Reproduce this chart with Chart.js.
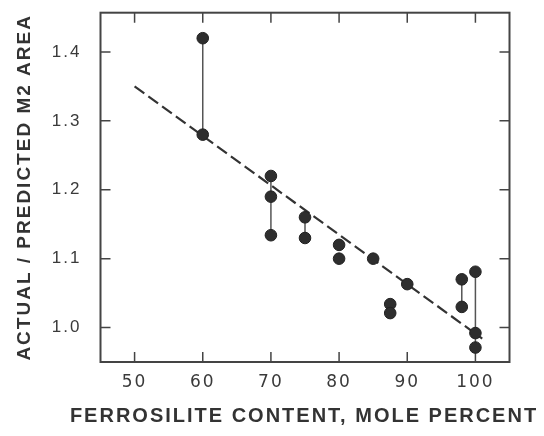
<!DOCTYPE html>
<html>
<head>
<meta charset="utf-8">
<script src="https://cdn.jsdelivr.net/npm/chart.js@4.4.1/dist/chart.umd.min.js"></script>
<style>
  html, body { margin: 0; padding: 0; background: #fff; }
  #wrap { width: 544px; height: 436px; }
</style>
</head>
<body>
<div id="wrap"><canvas id="chart" width="544" height="436"></canvas></div>
<script>
// ferrosilite content (mole %) and actual/predicted M2 area ratio
const fsContent = [60, 60, 70, 70, 70, 75, 75, 80, 80, 85, 87.5, 87.5, 90, 98, 98, 100, 100, 100];
const areaRatio = [1.42, 1.28, 1.22, 1.19, 1.134, 1.16, 1.13, 1.12, 1.10, 1.10, 1.034, 1.021, 1.063, 1.07, 1.03, 1.081, 0.992, 0.971];
// compositions where the points are joined by a vertical bar
const linkedContent = [60, 70, 75, 98, 100];
// dashed trend line
const fitX = [50, 101];
const fitY = [1.35, 0.984];
const xTicks = [50, 60, 70, 80, 90, 100];
const yTicks = [1.0, 1.1, 1.2, 1.3, 1.4];
const xTitle = "FERROSILITE CONTENT, MOLE PERCENT";

const ink = "#2e2e2e";

const links = linkedContent.map(x => {
  const ys = areaRatio.filter((_, i) => fsContent[i] === x);
  return {
    type: "line",
    data: [{ x, y: Math.min(...ys) }, { x, y: Math.max(...ys) }],
    borderColor: "#555",
    borderWidth: 1.5,
    pointRadius: 0,
    order: 3,
  };
});

// box and inward ticks on all four sides, plus the wide x title
const frame = {
  id: "frame",
  beforeDraw(chart) {
    chart.ctx.letterSpacing = "2px";
  },
  beforeDatasetsDraw(chart) {
    const { ctx, chartArea: a, scales } = chart;
    const len = 10;
    ctx.save();
    ctx.strokeStyle = "#444";
    ctx.lineWidth = 2;
    ctx.strokeRect(a.left, a.top, a.right - a.left, a.bottom - a.top);
    ctx.lineWidth = 1.5;
    ctx.beginPath();
    for (const v of xTicks) {
      const px = scales.x.getPixelForValue(v);
      ctx.moveTo(px, a.bottom); ctx.lineTo(px, a.bottom - len);
      ctx.moveTo(px, a.top); ctx.lineTo(px, a.top + len);
    }
    for (const v of yTicks) {
      const py = scales.y.getPixelForValue(v);
      ctx.moveTo(a.left, py); ctx.lineTo(a.left + len, py);
      ctx.moveTo(a.right, py); ctx.lineTo(a.right - len, py);
    }
    ctx.stroke();
    ctx.restore();
  },
  afterDraw(chart) {
    const { ctx, chartArea: a, scales } = chart;
    ctx.save();
    ctx.letterSpacing = "2px";
    ctx.font = "bold 20px 'Liberation Sans'";
    ctx.fillStyle = "#333";
    ctx.textAlign = "center";
    ctx.textBaseline = "middle";
    ctx.fillText(xTitle, (a.left + a.right) / 2 - 1, scales.x.bottom - 20);
    ctx.restore();
  },
};

new Chart(document.getElementById("chart"), {
  type: "scatter",
  data: {
    datasets: [
      {
        type: "line",
        data: fitX.map((x, i) => ({ x, y: fitY[i] })),
        borderColor: "#333",
        borderWidth: 2.2,
        borderDash: [12, 5],
        pointRadius: 0,
        order: 2,
      },
      ...links,
      {
        data: fsContent.map((x, i) => ({ x, y: areaRatio[i] })),
        backgroundColor: ink,
        borderColor: "#222",
        borderWidth: 1,
        pointRadius: 5.8,
        order: 1,
      },
    ],
  },
  options: {
    responsive: false,
    animation: false,
    events: [],
    layout: { padding: { top: 12.7, right: 34.5, left: 0, bottom: 0 } },
    plugins: { legend: { display: false }, tooltip: { enabled: false } },
    scales: {
      x: {
        type: "linear",
        min: 45,
        max: 105,
        afterBuildTicks: s => { s.ticks = xTicks.map(value => ({ value })); },
        afterFit: s => { s.height = 74; s.paddingLeft = 0; s.paddingRight = 0; },
        grid: { display: false, drawTicks: false },
        border: { display: false },
        ticks: {
          padding: 10,
          color: "#3a3a3a",
          font: { family: "DejaVu Sans", size: 17 },
          maxRotation: 0,
        },
      },
      y: {
        min: 0.95,
        max: 1.457,
        afterBuildTicks: s => { s.ticks = yTicks.map(value => ({ value })); },
        afterFit: s => { s.width = 100.5; s.paddingTop = 0; s.paddingBottom = 0; },
        grid: { display: false, drawTicks: false },
        border: { display: false },
        ticks: {
          padding: 19,
          color: "#3a3a3a",
          font: { family: "Liberation Sans", size: 17 },
          callback: v => v.toFixed(1),
        },
        title: {
          display: true,
          text: "ACTUAL / PREDICTED M2 AREA",
          color: "#333",
          font: { family: "Liberation Sans", size: 19, weight: "bold" },
          padding: { top: 13, bottom: 0 },
        },
      },
    },
  },
  plugins: [frame],
});
</script>
</body>
</html>
